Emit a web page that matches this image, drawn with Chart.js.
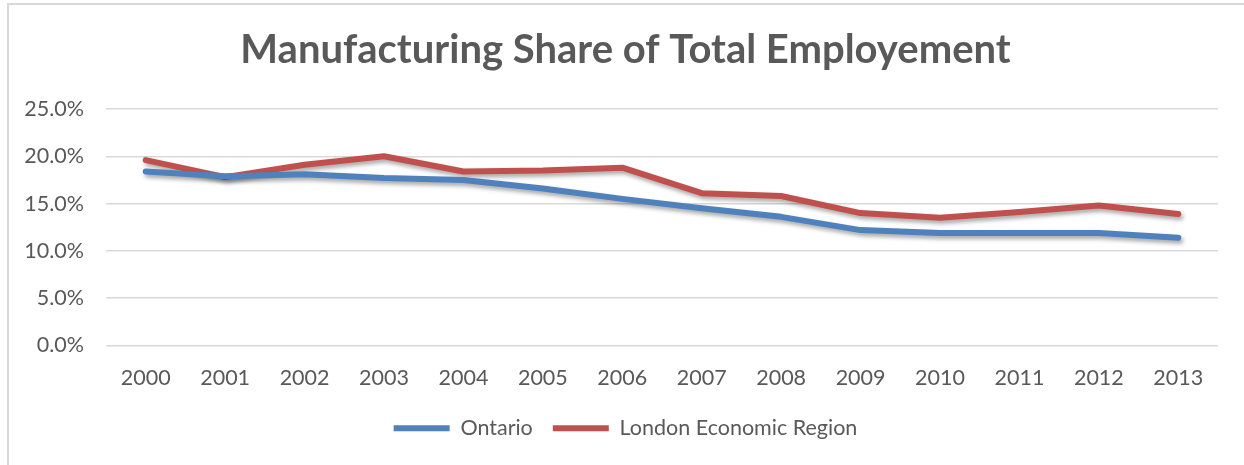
<!DOCTYPE html>
<html lang="en">
  <head>
    <meta charset="UTF-8" />
    <script src="https://cdn.jsdelivr.net/npm/chart.js"></script>
    <style>
      html, body { margin: 0; padding: 0; background: #fff; }
      .frame {
        position: absolute;
        left: 7px;
        top: 3px;
        width: 1250px;
        height: 480px;
        border-left: 2px solid #d9d9d9;
        border-top: 2px solid #d9d9d9;
      }
      .chart-box {
        position: absolute;
        left: 0;
        top: 0;
        width: 1244px;
        height: 465px;
      }
    </style>
    <title>Manufacturing Share of Total Employement</title>
  </head>
  <body>
    <div class="frame"></div>
    <div class="chart-box">
      <canvas id="mfgChart"></canvas>
    </div>

    <script>
      const years = ["2000", "2001", "2002", "2003", "2004", "2005", "2006", "2007", "2008", "2009", "2010", "2011", "2012", "2013"];
      const ontario = [18.4, 17.9, 18.1, 17.7, 17.5, 16.6, 15.5, 14.5, 13.6, 12.2, 11.9, 11.9, 11.9, 11.4];
      const londonRegion = [19.6, 17.8, 19.1, 20.0, 18.4, 18.5, 18.8, 16.1, 15.8, 14.0, 13.5, 14.1, 14.8, 13.9];
      const yTicks = [0, 5, 10, 15, 20, 25];

      const textColor = "#595959";
      const fontFamily = "Lato, 'Open Sans', sans-serif";

      // soft drop shadow under the lines
      const lineShadow = {
        id: "lineShadow",
        beforeDatasetsDraw(chart) {
          const ctx = chart.ctx;
          ctx.save();
          ctx.shadowColor = "rgba(0, 0, 0, 0.35)";
          ctx.shadowBlur = 4;
          ctx.shadowOffsetX = 2;
          ctx.shadowOffsetY = 3;
        },
        afterDatasetsDraw(chart) {
          chart.ctx.restore();
        },
      };

      const ctx = document.getElementById("mfgChart").getContext("2d");
      new Chart(ctx, {
        type: "line",
        data: {
          labels: years,
          datasets: [
            {
              label: "Ontario",
              data: ontario,
              borderColor: "#4f81bd",
              backgroundColor: "#4f81bd",
              borderWidth: 6,
              borderCapStyle: "round",
              borderJoinStyle: "round",
              pointRadius: 0,
              tension: 0,
            },
            {
              label: "London Economic Region",
              data: londonRegion,
              borderColor: "#c0504d",
              backgroundColor: "#c0504d",
              borderWidth: 6,
              borderCapStyle: "round",
              borderJoinStyle: "round",
              pointRadius: 0,
              tension: 0,
            },
          ],
        },
        options: {
          responsive: true,
          maintainAspectRatio: false,
          animation: false,
          layout: { padding: { left: 7, right: 0, top: 0, bottom: 16 } },
          scales: {
            x: {
              offset: true,
              grid: { display: false },
              border: { display: false },
              ticks: { color: textColor, font: { family: fontFamily, size: 21.5 }, padding: 12 },
              afterFit: (scale) => { scale.height = 52; },
            },
            y: {
              min: 0,
              max: 25,
              afterBuildTicks: (scale) => { scale.ticks = yTicks.map((v) => ({ value: v })); },
              grid: { color: "#d9d9d9", lineWidth: 1.5, drawTicks: false },
              border: { display: false },
              ticks: {
                color: textColor,
                font: { family: fontFamily, size: 21.5 },
                padding: 22,
                callback: (v) => v.toFixed(1) + "%",
              },
              afterFit: (scale) => { scale.width = 99; },
            },
            // empty right-hand axis that keeps the plot clear of the right edge
            yRight: {
              position: "right",
              grid: { display: false, drawTicks: false },
              border: { display: false },
              ticks: { display: false },
              afterFit: (scale) => { scale.width = 26; },
            },
          },
          plugins: {
            title: {
              display: true,
              text: "Manufacturing Share of Total Employement",
              color: textColor,
              font: { family: fontFamily, size: 40, weight: "bold" },
              padding: { top: 26, bottom: 35 },
            },
            legend: {
              position: "bottom",
              labels: {
                color: textColor,
                font: { family: fontFamily, size: 21.5 },
                boxWidth: 56,
                boxHeight: 6,
                padding: 20,
                generateLabels: (chart) =>
                  chart.data.datasets.map((ds, i) => ({
                    text: ds.label,
                    fillStyle: ds.borderColor,
                    strokeStyle: ds.borderColor,
                    lineWidth: 0,
                    fontColor: textColor,
                    datasetIndex: i,
                  })),
              },
            },
            tooltip: { enabled: false },
          },
        },
        plugins: [lineShadow],
      });
    </script>
  </body>
</html>
